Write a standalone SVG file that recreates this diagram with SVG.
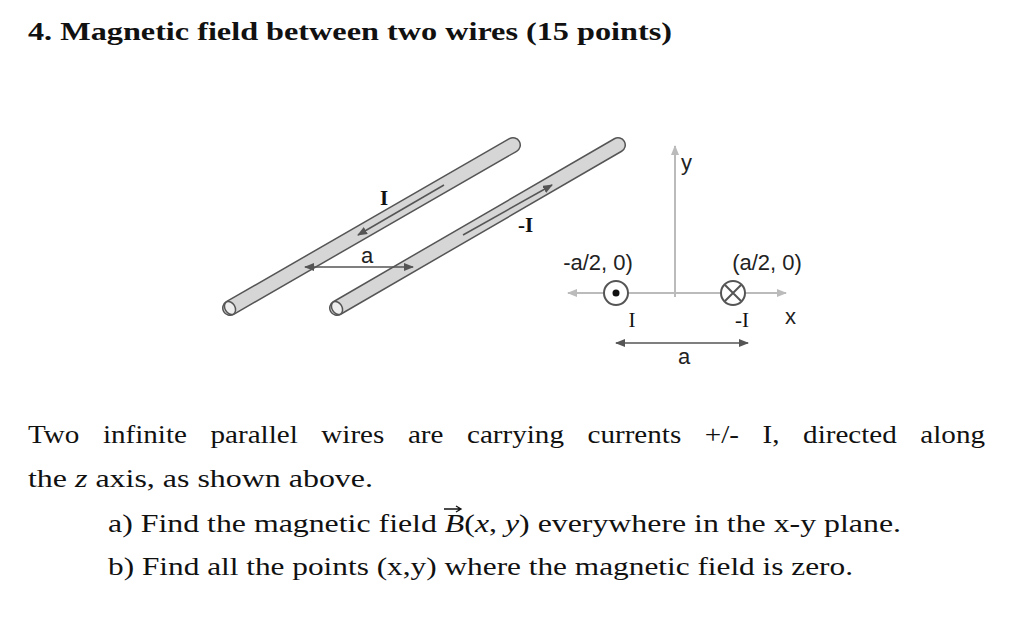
<svg xmlns="http://www.w3.org/2000/svg" width="1024" height="636" viewBox="0 0 1024 636">
<style>
.s{font-family:"Liberation Serif",serif;fill:#111}
.f{font-family:"Liberation Sans",sans-serif;fill:#222;font-size:22px}
.rod{stroke:#555;stroke-width:16;stroke-linecap:round}
.rin{stroke:#d6d6d6;stroke-width:13;stroke-linecap:round}
.dk{stroke:#555;stroke-width:1.5;fill:none}
.lt{stroke:#bbb;stroke-width:2;fill:none}
</style>
<defs>
<marker id="ad" markerWidth="10" markerHeight="8" refX="9" refY="4" orient="auto" markerUnits="userSpaceOnUse"><path d="M0,0L10,4L0,8z" fill="#555"/></marker>
<marker id="al" markerWidth="10" markerHeight="8" refX="9" refY="4" orient="auto" markerUnits="userSpaceOnUse"><path d="M0,0L10,4L0,8z" fill="#bbb"/></marker>
</defs>
<rect width="1024" height="636" fill="#fff"/>
<text class="s" x="28" y="40" font-size="26" font-weight="bold" textLength="644" lengthAdjust="spacingAndGlyphs">4. Magnetic field between two wires (15 points)</text>
<g id="wire1">
<line class="rod" x1="230" y1="308" x2="513" y2="145"/><line class="rin" x1="230" y1="308" x2="513" y2="145"/>
<ellipse cx="230" cy="308" rx="5" ry="7" transform="rotate(-30 230 308)" fill="#eee" stroke="#555" stroke-width="1.5"/>
</g>
<g id="wire2">
<line class="rod" x1="337" y1="308" x2="618" y2="145"/><line class="rin" x1="337" y1="308" x2="618" y2="145"/>
<ellipse cx="337" cy="308" rx="5" ry="7" transform="rotate(-30 337 308)" fill="#eee" stroke="#555" stroke-width="1.5"/>
</g>
<g id="axes">
<line class="lt" x1="675" y1="297" x2="675" y2="146" marker-end="url(#al)"/>
<line class="lt" x1="675" y1="293" x2="786" y2="293" marker-end="url(#al)"/>
<line class="lt" x1="675" y1="293" x2="568" y2="293" marker-end="url(#al)"/>
</g>
<g id="wireL"><circle cx="616" cy="293" r="12" fill="#fff" stroke="#555" stroke-width="2"/><circle cx="616" cy="293" r="3.5" fill="#111"/></g>
<g id="wireR"><circle cx="733" cy="293" r="12" fill="#fff" stroke="#555" stroke-width="2"/><path d="M725,285L741,301M741,285L725,301" stroke="#555" stroke-width="2"/></g>
<g id="connectors">
<line class="dk" x1="444" y1="185" x2="358" y2="235" marker-end="url(#ad)"/>
<line class="dk" x1="463" y1="235" x2="552" y2="185" marker-end="url(#ad)"/>
<line class="dk" x1="340" y1="267" x2="305" y2="267" marker-end="url(#ad)"/>
<line class="dk" x1="340" y1="267" x2="413" y2="267" marker-end="url(#ad)"/>
<line class="dk" x1="682" y1="343" x2="616" y2="343" marker-end="url(#ad)"/>
<line class="dk" x1="682" y1="343" x2="748" y2="343" marker-end="url(#ad)"/>
</g>
<text class="s" x="380" y="205" font-size="21" font-weight="bold">I</text>
<text class="s" x="518" y="232" font-size="21" font-weight="bold">-I</text>
<text class="f" x="367" y="263" text-anchor="middle">a</text>
<text class="f" x="598" y="270" text-anchor="middle">-a/2, 0)</text>
<text class="f" x="767" y="270" text-anchor="middle">(a/2, 0)</text>
<text class="f" x="681" y="170">y</text>
<text class="f" x="785" y="324">x</text>
<text class="s" x="632" y="327" font-size="21" text-anchor="middle">I</text>
<text class="s" x="742" y="327" font-size="21" text-anchor="middle">-I</text>
<text class="f" x="684" y="364" text-anchor="middle">a</text>
<text class="s" x="28" y="443" font-size="25" word-spacing="14" textLength="957" lengthAdjust="spacingAndGlyphs">Two infinite parallel wires are carrying currents +/- I, directed along</text>
<text class="s" x="28" y="487" font-size="25" textLength="345" lengthAdjust="spacingAndGlyphs">the  <tspan font-style="italic">z</tspan> axis, as shown above.</text>
<text class="s" x="108" y="532" font-size="25" textLength="793" lengthAdjust="spacingAndGlyphs">a) Find the magnetic field <tspan font-style="italic">B</tspan>(<tspan font-style="italic">x</tspan>, <tspan font-style="italic">y</tspan>) everywhere in the x-y plane.</text>
<path d="M444,509L460,509M456,506L461,509L456,512" stroke="#111" stroke-width="1.3" fill="none"/>
<text class="s" x="108" y="575" font-size="25" textLength="745" lengthAdjust="spacingAndGlyphs">b) Find all the points (x,y) where the magnetic field is zero.</text>
</svg>
